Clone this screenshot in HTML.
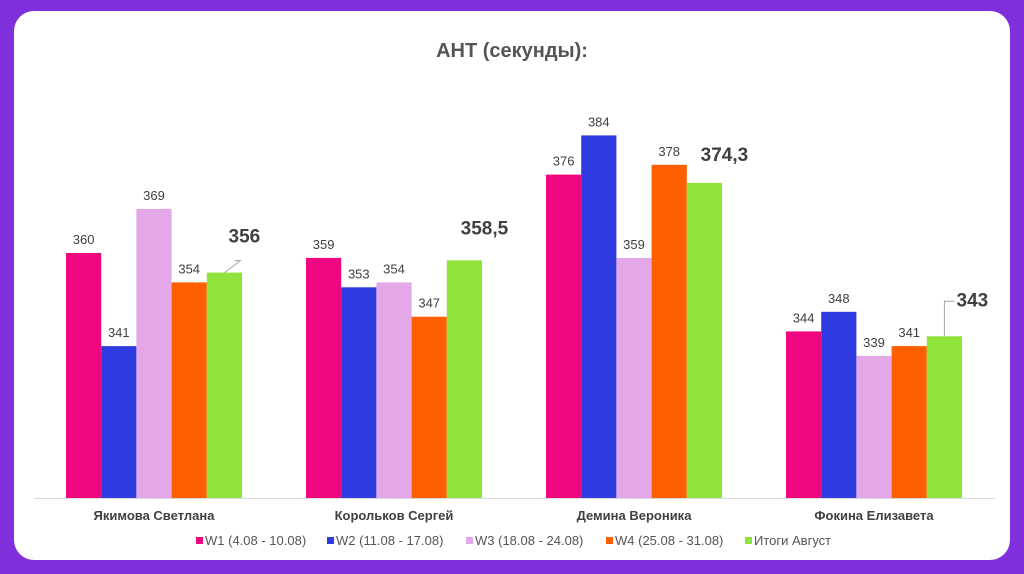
<!DOCTYPE html>
<html><head><meta charset="utf-8"><style>
body{margin:0;background:#7f2fdb;width:1024px;height:574px;overflow:hidden;font-family:"Liberation Sans","DejaVu Sans",sans-serif}
#card{position:absolute;left:14px;top:11px;width:996px;height:549px;background:#fff;border-radius:20px}
svg{position:absolute;left:0;top:0}
</style></head><body>
<div id="card"></div>
<svg id="chart" width="1024" height="574">
<text x="512" y="57" text-anchor="middle" font-size="20" font-weight="bold" fill="#555">АНТ (секунды):</text>
<line x1="34" y1="498.5" x2="995" y2="498.5" stroke="#d9d9d9"/>
</svg>
<script>
const categories=["Якимова Светлана","Корольков Сергей","Демина Вероника","Фокина Елизавета"];
const seriesNames=["W1 (4.08 - 10.08)","W2 (11.08 - 17.08)","W3 (18.08 - 24.08)","W4 (25.08 - 31.08)","Итоги Август"];
const w1=[360,359,376,344];
const w2=[341,353,384,348];
const w3=[369,354,359,339];
const w4=[354,347,378,341];
const totals=[356,358.5,374.3,343];
const totalLabels=["356","358,5","374,3","343"];
const colors=["#f0077f","#2f3be0","#e4a7e8","#ff5f00","#8fe33a"];
const series=[w1,w2,w3,w4,totals];
const svg=document.getElementById('chart');
const NS="http://www.w3.org/2000/svg";
const baseY=498,minV=310,pxPer=4.9,x0=34,groupW=240,barW=35.2;
const labDx=[20,20,20,28],labDy=[30,26,22,30];
const y=v=>baseY-(v-minV)*pxPer;
const gx=i=>x0+groupW*i+groupW/2;
function mk(t,a){const e=document.createElementNS(NS,t);for(const k in a)e.setAttribute(k,a[k]);svg.appendChild(e);return e;}
categories.forEach((c,i)=>{
  const cx=gx(i);
  series.forEach((s,j)=>{
    const bx=cx-2.5*barW+j*barW;
    const r=mk('rect',{x:bx,y:y(s[i]),width:barW,height:baseY-y(s[i]),fill:colors[j]});
    
    
    if(j<4){
      const t=mk('text',{x:bx+barW/2,y:y(s[i])-9,'text-anchor':'middle','font-size':13,fill:'#404040'});
      t.textContent=s[i];
      
      
    }
  });
  const bx=cx+1.5*barW, top=y(totals[i]);
  const big=mk('text',{x:bx+barW/2+labDx[i],y:top-labDy[i],'text-anchor':'middle','font-size':19,'font-weight':'bold',fill:'#404040'});
  big.textContent=totalLabels[i];
  
  
  if(i==0||i==3){
    const l=mk('polyline',{points:`${bx+barW/2},${top} ${bx+barW/2+(i==0?16:0)},${top-(i==0?12:35)} ${bx+barW/2+10},${top-(i==0?12:35)}`,fill:'none',stroke:'#a6a6a6'});
    
    
  }
  const ct=mk('text',{x:cx,y:520,'text-anchor':'middle','font-size':13,'font-weight':'bold',fill:'#404040'});
  ct.textContent=c;
  
  
});
const legX=[196,327,466,606,745];
seriesNames.forEach((n,j)=>{
  const r=mk('rect',{x:legX[j],y:537,width:7,height:7,fill:colors[j]});
  
  
  const t=mk('text',{x:legX[j]+9,y:545,'font-size':13,fill:'#555'});
  t.textContent=n;
  
  
});
</script>
</body></html>
